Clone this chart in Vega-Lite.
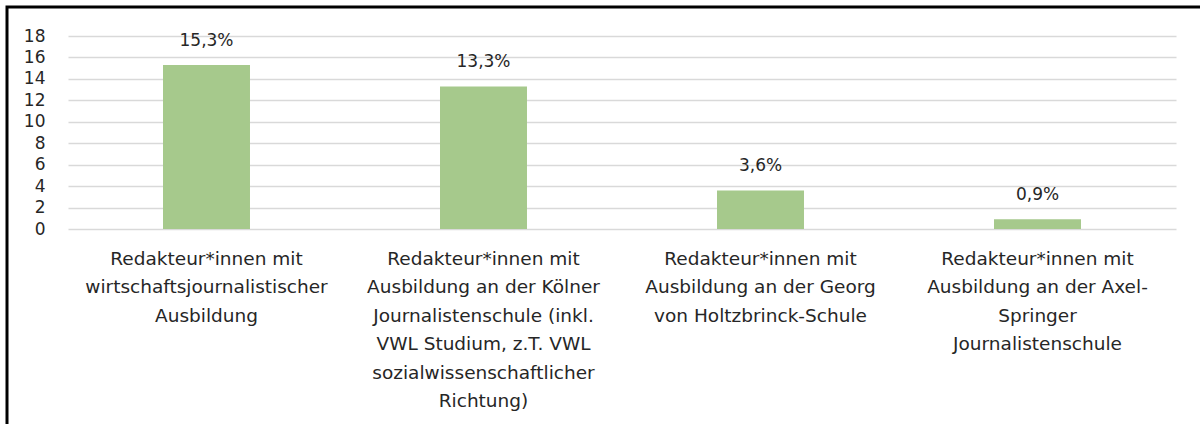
{
  "$schema": "https://vega.github.io/schema/vega-lite/v6.json",
  "width": 1196,
  "height": 420,
  "autosize": {"type": "none"},
  "padding": {"left": 7, "top": 7, "right": -3, "bottom": -3},
  "background": "white",
  "config": {"view": {"stroke": "black", "strokeWidth": 3}, "font": "DejaVu Sans"},
  "data": {"values": [
    {"kat": "Redakteur*innen mit|wirtschaftsjournalistischer|Ausbildung", "wert": 15.3, "label": "15,3%"},
    {"kat": "Redakteur*innen mit|Ausbildung an der Kölner|Journalistenschule (inkl.|VWL Studium, z.T. VWL|sozialwissenschaftlicher|Richtung)", "wert": 13.3, "label": "13,3%"},
    {"kat": "Redakteur*innen mit|Ausbildung an der Georg|von Holtzbrinck-Schule", "wert": 3.6, "label": "3,6%"},
    {"kat": "Redakteur*innen mit|Ausbildung an der Axel-|Springer|Journalistenschule", "wert": 0.9, "label": "0,9%"}
  ]},
  "encoding": {
    "x": {
      "field": "kat", "type": "nominal", "sort": null,
      "scale": {"range": [61, 1169], "paddingInner": 0.686, "paddingOuter": 0.343},
      "axis": {"title": null, "labelAngle": 0, "labelExpr": "split(datum.label, '|')", "labelFontSize": 18.5, "labelColor": "#262626", "labelLineHeight": 28.5, "labelBaseline": "top", "labelPadding": 0, "ticks": false, "domain": false, "grid": false, "offset": -178, "labelLimit": 400}
    },
    "y": {
      "field": "wert", "type": "quantitative",
      "scale": {"domain": [0, 18], "range": [222, 29], "nice": false},
      "axis": {"title": null, "values": [0, 2, 4, 6, 8, 10, 12, 14, 16, 18], "labelFontSize": 17, "labelColor": "#262626", "labelPadding": 0, "ticks": false, "domain": false, "grid": true, "gridColor": "#D9D9D9", "gridWidth": 1.5, "offset": -38}
    }
  },
  "layer": [
    {"mark": {"type": "bar", "color": "#A6C98C"}},
    {"mark": {"type": "text", "dy": -24, "fontSize": 17, "color": "#262626"}, "encoding": {"text": {"field": "label"}}}
  ]
}
